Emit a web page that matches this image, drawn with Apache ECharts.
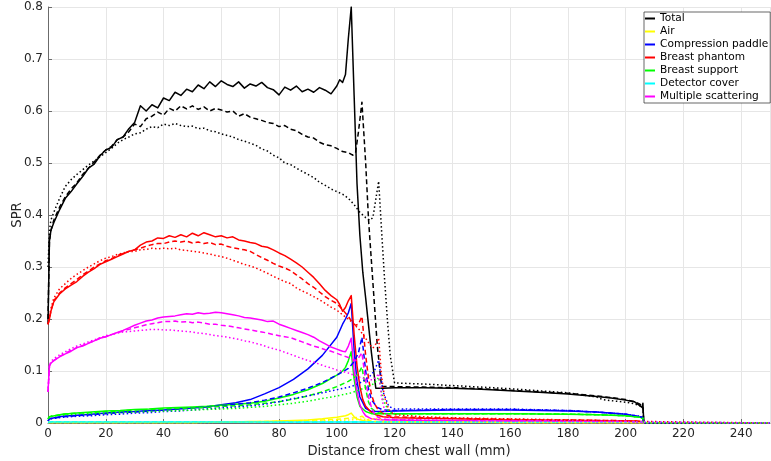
<!DOCTYPE html>
<html>
<head>
<meta charset="utf-8">
<script src="https://cdn.jsdelivr.net/npm/echarts@6/dist/echarts.min.js"></script>
<style>
html,body{margin:0;padding:0;background:#fff;}
#chart{width:771px;height:461px;}
</style>
</head>
<body>
<div id="chart"></div>
<script>
// ---- names / labels ----
const componentNames = ['Total','Air','Compression paddle','Breast phantom','Breast support','Detector cover','Multiple scattering'];
const componentColors = ['#000000','#ffff00','#0000ff','#ff0000','#00ff00','#00ffff','#ff00ff'];
const xTitle = 'Distance from chest wall (mm)';
const yTitle = 'SPR';

// ---- x positions (mm) ----
// fine grids (noisy curves: Total, Breast phantom, Multiple scattering)
const xSolidFine = [0,0.5,1,2,4,6,8,10,12,14,16,18,20,22,24,26,28,30,32,34,36,38,40,42,44,46,48,50,52,54,56,58,60,62,64,66,68,70,72,74,76,78,80,82,84,86,88,90,92,94,96,98,100,101,102,103,104,105,106,107,108,109,110,112,113.5,116,120,130,140,150,160,170,180,190,195,200,203,205,205.7,206,206.3];
const xDashFine = [0,0.5,1,2,4,6,8,10,12,14,16,18,20,22,24,26,28,30,32,34,36,38,40,42,44,46,48,50,52,54,56,58,60,62,64,66,68,70,72,74,76,78,80,82,84,86,88,90,92,94,96,98,100,102,104,105.5,106.5,107.5,108.7,110,111,112,113,114,115.5,117,120,130,140,150,160,170,180,190,195,200,203,205,206,206.3];
const xDotFine = [0,0.5,1,2,4,6,8,10,12,14,16,18,20,22,24,26,28,30,32,34,36,38,40,42,44,46,48,50,52,54,56,58,60,62,64,66,68,70,72,74,76,78,80,82,84,86,88,90,92,94,96,98,100,102,104,106,108,110,111.5,112.5,113.5,114.5,115.5,116.5,117.5,118.5,120,130,140,150,160,170,180,190,192,195,200,203,205,206,206.3,250];
// coarse grids (smooth curves)
const xSolidCoarse = [0,0.5,1,5,10,15,20,25,30,35,40,45,50,55,60,65,70,75,80,85,90,95,100,102,103,104,105,106,107,108,110,112,116,120,130,140,160,180,190,200,205,206,206.3];
const xDashCoarse = [0,0.5,1,5,10,15,20,25,30,35,40,45,50,55,60,65,70,75,80,85,90,95,100,104,106,107.5,108.7,110,111,112,114,116,120,130,140,160,180,190,200,205,206,206.3];
const xDotCoarse = [0,0.5,1,5,10,15,20,25,30,35,40,45,50,55,60,65,70,75,80,85,90,95,100,105,108,111,113,114.5,116,118,120,130,140,160,180,190,200,205,206,206.3,250];

// ---- Total ----
const totalSolid = [0.19,0.35,0.37,
 0.385,0.41,0.432,0.445,0.46,0.474,0.49,0.498,0.514,0.525,
 0.53,0.545,0.55,0.566,0.578,0.61,0.6,0.612,0.606,0.625,
 0.62,0.636,0.63,0.642,0.637,0.65,0.643,0.656,0.647,0.658,
 0.651,0.647,0.656,0.644,0.652,0.648,0.655,0.645,0.641,0.631,
 0.646,0.64,0.648,0.637,0.642,0.636,0.645,0.64,0.633,0.648,
 0.66,0.655,0.67,0.74,0.8,0.63,0.46,0.36,0.29,0.24,
 0.135,0.067,0.067,0.068,
 0.068,0.067,0.065,0.062,0.059,0.056,0.051,
 0.048,0.044,0.041,0.033,0.03,0.038,0];
const totalDash = [0.2,0.35,0.37,
 0.39,0.415,0.435,0.45,0.462,0.478,0.49,0.502,0.515,0.525,
 0.532,0.545,0.55,0.56,0.575,0.57,0.585,0.59,0.598,0.592,
 0.605,0.6,0.61,0.604,0.61,0.603,0.608,0.6,0.605,0.602,
 0.598,0.6,0.59,0.595,0.588,0.585,0.582,0.578,0.576,0.57,
 0.572,0.565,0.562,0.555,0.55,0.548,0.54,0.535,0.533,0.528,
 0.522,0.52,0.515,0.52,0.56,0.617,0.5,0.39,0.31,0.23,0.15,0.07,0.07,0.07,
 0.069,0.068,0.066,0.063,0.06,0.057,0.052,
 0.049,0.045,0.041,0.036,0.03,0];
const totalDot = [0.3,0.37,0.39,
 0.405,0.432,0.455,0.468,0.478,0.487,0.496,0.504,0.512,0.52,
 0.528,0.538,0.545,0.55,0.556,0.558,0.565,0.57,0.568,0.575,
 0.572,0.576,0.572,0.57,0.571,0.566,0.567,0.562,0.56,0.556,
 0.553,0.55,0.545,0.542,0.538,0.534,0.527,0.523,0.515,0.51,
 0.5,0.497,0.49,0.484,0.478,0.472,0.463,0.457,0.45,0.445,
 0.44,0.432,0.42,0.405,0.395,0.39,0.395,0.43,0.465,0.37,0.28,0.2,0.13,0.077,
 0.075,0.072,0.069,0.066,0.062,0.058,0.05,
 0.045,0.043,0.04,0.037,0.033,0.028,0,0];

// ---- Breast phantom ----
const phantomSolid = [0.19,0.2,0.215,
 0.233,0.248,0.258,0.265,0.272,0.282,0.29,0.297,0.305,0.31,
 0.315,0.32,0.325,0.33,0.333,0.342,0.348,0.35,0.356,0.355,
 0.36,0.357,0.362,0.358,0.365,0.36,0.366,0.362,0.358,0.36,
 0.356,0.358,0.352,0.35,0.347,0.345,0.34,0.338,0.333,0.327,
 0.322,0.315,0.308,0.3,0.29,0.28,0.268,0.255,0.245,0.237,
 0.228,0.215,0.222,0.235,0.245,0.17,0.11,0.07,0.045,0.032,
 0.02,0.016,0.012,0.01,
 0.009,0.008,0.007,0.006,0.006,0.005,0.005,
 0.004,0.004,0.004,0.003,0.003,0.003,0];
const phantomDash = [0.19,0.2,0.215,
 0.235,0.25,0.26,0.268,0.276,0.285,0.292,0.3,0.306,0.312,
 0.316,0.322,0.326,0.33,0.333,0.336,0.34,0.343,0.345,0.345,
 0.348,0.35,0.348,0.35,0.346,0.348,0.345,0.347,0.343,0.344,
 0.34,0.337,0.335,0.333,0.33,0.324,0.318,0.313,0.307,0.302,
 0.298,0.293,0.285,0.277,0.268,0.261,0.252,0.243,0.236,0.23,
 0.218,0.205,0.192,0.188,0.19,0.205,0.13,0.085,0.055,0.038,0.028,0.02,0.015,0.012,
 0.01,0.009,0.008,0.007,0.006,0.006,0.005,
 0.005,0.004,0.004,0.003,0.003,0];
const phantomDot = [0.19,0.205,0.22,
 0.24,0.258,0.268,0.278,0.286,0.293,0.3,0.306,0.312,0.317,
 0.32,0.324,0.327,0.33,0.33,0.333,0.334,0.336,0.335,0.336,
 0.335,0.336,0.333,0.332,0.33,0.329,0.327,0.325,0.322,0.32,
 0.317,0.313,0.309,0.305,0.302,0.298,0.293,0.288,0.282,0.277,
 0.272,0.268,0.26,0.254,0.249,0.243,0.237,0.23,0.223,0.217,
 0.208,0.2,0.19,0.178,0.163,0.15,0.144,0.152,0.163,0.09,0.05,0.033,0.022,0.016,
 0.012,0.01,0.009,0.008,0.007,0.006,0.005,
 0.005,0.005,0.004,0.004,0.003,0.003,0,0];

// ---- Multiple scattering ----
const multiSolid = [0.06,0.11,0.115,
 0.12,0.127,0.133,0.138,0.145,0.148,0.153,0.158,0.163,0.166,
 0.17,0.174,0.178,0.183,0.188,0.192,0.196,0.198,0.202,0.204,
 0.205,0.206,0.208,0.21,0.209,0.212,0.21,0.211,0.213,0.212,
 0.21,0.208,0.206,0.203,0.202,0.2,0.198,0.195,0.196,0.19,
 0.186,0.182,0.178,0.174,0.17,0.165,0.158,0.152,0.146,0.142,
 0.14,0.138,0.137,0.148,0.163,0.1,0.06,0.035,0.022,0.014,
 0.008,0.007,0.006,0.006,
 0.005,0.005,0.004,0.004,0.004,0.003,0.003,
 0.003,0.003,0.002,0.002,0.002,0.002,0];
const multiDash = [0.06,0.11,0.115,
 0.12,0.128,0.134,0.14,0.145,0.149,0.154,0.158,0.163,0.166,
 0.17,0.174,0.177,0.18,0.183,0.186,0.189,0.191,0.193,0.195,
 0.195,0.196,0.194,0.195,0.193,0.194,0.192,0.19,0.19,0.188,
 0.187,0.185,0.183,0.181,0.179,0.177,0.175,0.173,0.17,0.168,
 0.166,0.164,0.16,0.156,0.152,0.148,0.145,0.141,0.138,0.134,
 0.13,0.126,0.122,0.12,0.125,0.135,0.08,0.05,0.03,0.018,0.012,0.008,0.007,0.006,
 0.005,0.005,0.004,0.004,0.004,0.003,0.003,
 0.003,0.003,0.002,0.002,0.002,0];
const multiDot = [0.06,0.11,0.118,
 0.124,0.131,0.137,0.143,0.148,0.152,0.156,0.16,0.164,0.168,
 0.17,0.173,0.175,0.176,0.177,0.178,0.179,0.18,0.18,0.179,
 0.179,0.178,0.177,0.176,0.175,0.173,0.172,0.17,0.168,0.167,
 0.165,0.163,0.161,0.158,0.156,0.153,0.15,0.146,0.143,0.14,
 0.136,0.132,0.128,0.124,0.12,0.117,0.113,0.109,0.106,0.102,
 0.099,0.096,0.092,0.088,0.085,0.083,0.083,0.088,0.095,0.05,0.025,0.014,0.009,0.007,
 0.006,0.005,0.005,0.004,0.004,0.004,0.003,
 0.003,0.003,0.003,0.002,0.002,0.002,0,0];

// ---- Compression paddle ----
const paddleSolid = [0.004,0.008,0.01,
 0.013,0.015,0.017,0.019,0.021,0.022,0.024,0.025,0.027,0.029,0.031,0.035,0.039,0.045,0.056,0.068,0.084,0.104,0.13,
 0.165,0.19,0.2,0.212,0.23,
 0.14,0.08,0.05,0.028,
 0.022,0.022,0.023,
 0.024,0.025,0.025,0.023,0.021,0.017,
 0.012,0.01,0];
const paddleDash = [0.004,0.008,0.01,
 0.012,0.014,0.016,0.018,0.02,0.021,0.023,0.025,0.027,0.029,0.031,0.033,0.036,0.039,0.044,0.05,0.058,0.067,0.078,0.092,
 0.105,0.118,0.135,0.165,0.1,0.065,0.045,0.03,0.025,0.024,
 0.025,0.026,0.026,0.024,0.021,0.017,
 0.012,0.01,0];
const paddleDot = [0.004,0.008,0.01,
 0.011,0.013,0.014,0.016,0.017,0.019,0.02,0.022,0.023,0.025,0.027,0.029,0.031,0.033,0.036,0.041,0.047,0.052,0.058,0.064,
 0.07,0.077,0.087,0.1,0.121,0.06,0.032,0.027,
 0.027,0.027,0.027,0.024,0.021,0.017,
 0.013,0.01,0,0];

// ---- Breast support ----
const supportSolid = [0.008,0.012,0.014,
 0.017,0.019,0.021,0.023,0.024,0.026,0.027,0.029,0.03,0.031,0.032,0.034,0.036,0.038,0.042,0.048,0.055,0.064,0.076,
 0.092,0.1,0.107,0.12,0.137,
 0.085,0.05,0.032,0.022,
 0.018,0.018,0.018,
 0.018,0.018,0.018,0.017,0.016,0.014,
 0.011,0.009,0];
const supportDash = [0.008,0.012,0.014,
 0.017,0.019,0.02,0.022,0.023,0.025,0.026,0.027,0.028,0.029,0.03,0.032,0.033,0.035,0.038,0.041,0.046,0.052,0.06,0.07,
 0.08,0.087,0.095,0.108,0.065,0.04,0.028,0.02,0.018,0.018,
 0.018,0.018,0.018,0.017,0.016,0.014,
 0.011,0.009,0];
const supportDot = [0.008,0.011,0.013,
 0.015,0.017,0.018,0.019,0.02,0.021,0.022,0.023,0.024,0.025,0.026,0.027,0.028,0.03,0.032,0.035,0.038,0.042,0.047,0.052,
 0.058,0.064,0.07,0.076,0.088,0.045,0.022,0.018,
 0.018,0.018,0.018,0.017,0.016,0.014,
 0.011,0.009,0,0];

// ---- Air ----
const airSolid = [0.001,0.001,0.001,
 0.001,0.001,0.001,0.001,0.001,0.001,0.001,0.001,0.001,0.001,0.0015,0.002,0.002,0.003,0.003,0.004,0.005,0.006,0.008,
 0.011,0.013,0.014,0.016,0.019,
 0.012,0.008,0.006,0.004,
 0.003,0.002,0.002,
 0.002,0.002,0.001,0.001,0.001,0.001,
 0.001,0.001,0];
const airDash = [0.001,0.001,0.001,
 0.001,0.001,0.001,0.001,0.001,0.001,0.001,0.001,0.001,0.001,0.0015,0.002,0.002,0.002,0.003,0.003,0.004,0.005,0.006,0.007,
 0.009,0.01,0.011,0.013,0.008,0.005,0.004,0.003,0.002,0.002,
 0.002,0.002,0.001,0.001,0.001,0.001,
 0.001,0.001,0];
const airDot = [0.001,0.001,0.001,
 0.001,0.001,0.001,0.001,0.001,0.001,0.001,0.001,0.001,0.001,0.001,0.0015,0.002,0.002,0.002,0.003,0.003,0.004,0.004,0.005,
 0.006,0.007,0.007,0.008,0.009,0.004,0.002,0.002,
 0.002,0.002,0.001,0.001,0.001,0.001,
 0.001,0.001,0,0];

// ---- Detector cover ----
const coverSolid = [0.001,
 0.002,0.002,0.002,0.002,0.002,0.002,0.002,0.002,0.002,0.002,
 0.002,0.002,0.002,0.002,0.002,0.002,0.002,0.002,0.002,0.002,
 0.002,0.002,0.002,0.002,0.002,0.002,0.002,0.002,0.002,0.002,
 0.002,0.002,0.002,0.002,0.002,0.002,0.002,0.002,0.002,0.002,
 0.002,0];
const coverDash = [0.001,
 0.002,0.002,0.002,0.002,0.002,0.002,0.002,0.002,0.002,0.002,
 0.002,0.002,0.002,0.002,0.002,0.002,0.002,0.002,0.002,0.002,
 0.002,0.002,0.002,0.002,0.002,0.002,0.002,0.002,0.002,0.002,
 0.002,0.002,0.002,0.002,0.002,0.002,0.002,0.002,0.002,0.002,
 0];
const coverDot = [0.001,
 0.002,0.002,0.002,0.002,0.002,0.002,0.002,0.002,0.002,0.002,
 0.002,0.002,0.002,0.002,0.002,0.002,0.002,0.002,0.002,0.002,
 0.002,0.002,0.002,0.002,0.002,0.002,0.002,0.002,0.002,0.002,
 0.002,0.002,0.002,0.002,0.002,0.002,0.002,0.002,
 0,0];

// ---- assemble ----
function pairs(xs, ys, label) {
  if (xs.length !== ys.length) throw new Error('Length mismatch for ' + label + ': ' + xs.length + ' vs ' + ys.length);
  return xs.map((x, i) => [x, ys[i]]);
}
const styleDefs = [
  {type: 'solid', fine: xSolidFine, coarse: xSolidCoarse},
  {type: [5, 3], fine: xDashFine, coarse: xDashCoarse},
  {type: [1.5, 2.5], fine: xDotFine, coarse: xDotCoarse}
];
const compData = [
  {vals: [totalSolid, totalDash, totalDot], fine: true},
  {vals: [airSolid, airDash, airDot], fine: false},
  {vals: [paddleSolid, paddleDash, paddleDot], fine: false},
  {vals: [phantomSolid, phantomDash, phantomDot], fine: true},
  {vals: [supportSolid, supportDash, supportDot], fine: false},
  {vals: [coverSolid, coverDash, coverDot], fine: false},
  {vals: [multiSolid, multiDash, multiDot], fine: true}
];

const series = [];
styleDefs.forEach((st, si) => {
  compData.forEach((c, ci) => {
    const xs = c.fine ? st.fine : st.coarse;
    series.push({
      type: 'line',
      name: componentNames[ci],
      data: pairs(xs, c.vals[si], componentNames[ci] + ' style ' + si),
      symbol: 'none',
      showSymbol: false,
      silent: true,
      emphasis: {disabled: true},
      lineStyle: {color: componentColors[ci], width: 1.5, type: st.type, cap: 'butt', join: 'round'},
      itemStyle: {color: componentColors[ci]}
    });
  });
});

const FONT = 'DejaVu Sans';
const chart = echarts.init(document.getElementById('chart'), null, {renderer: 'canvas'});
chart.setOption({
  animation: false,
  backgroundColor: '#ffffff',
  textStyle: {fontFamily: FONT},
  grid: {left: 48, right: 1, top: 7, bottom: 38, containLabel: false, outerBoundsMode: 'none'},
  legend: {
    data: componentNames,
    orient: 'vertical',
    left: 644,
    top: 12,
    padding: [0, 2, 0, 1],
    itemGap: 0,
    itemWidth: 10,
    itemHeight: 2,
    icon: 'rect',
    selectedMode: false,
    backgroundColor: '#ffffff',
    borderColor: '#262626',
    borderWidth: 0.7,
    borderRadius: 0,
    textStyle: {fontFamily: FONT, fontSize: 10.6, color: '#000', lineHeight: 13}
  },
  xAxis: {
    type: 'value', min: 0, max: 250, interval: 20,
    name: xTitle, nameLocation: 'middle', nameGap: 18,
    nameTextStyle: {fontFamily: FONT, fontSize: 13.2, color: '#262626'},
    axisLine: {show: true, onZero: false, lineStyle: {color: '#6b6b6b', width: 1}},
    axisTick: {show: true, inside: true, length: 4, lineStyle: {color: '#6b6b6b', width: 1}},
    axisLabel: {showMaxLabel: false, fontFamily: FONT, fontSize: 12, color: '#262626', margin: 5},
    splitLine: {show: true, lineStyle: {color: '#e6e6e6', width: 1}}
  },
  yAxis: {
    type: 'value', min: 0, max: 0.8, interval: 0.1,
    name: yTitle, nameLocation: 'middle', nameGap: 24, nameRotate: 90, nameMoveOverlap: false,
    nameTextStyle: {fontFamily: FONT, fontSize: 13.2, color: '#262626'},
    axisLine: {show: true, onZero: false, lineStyle: {color: '#6b6b6b', width: 1}},
    axisTick: {show: true, inside: true, length: 4, lineStyle: {color: '#6b6b6b', width: 1}},
    axisLabel: {fontFamily: FONT, fontSize: 12, color: '#262626', margin: 5},
    splitLine: {show: true, lineStyle: {color: '#e6e6e6', width: 1}}
  },
  series: series
});
</script>
</body>
</html>
